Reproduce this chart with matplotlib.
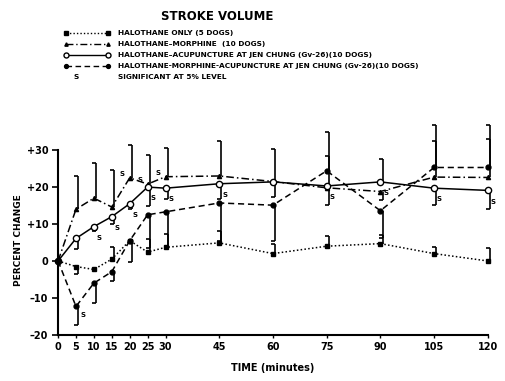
import numpy as np
import matplotlib
matplotlib.use("Agg")
import matplotlib.pyplot as plt

# time points (minutes)
times = [0, 5, 10, 15, 20, 25, 30, 45, 60, 75, 90, 105, 120]

# percent change in stroke volume
halothane_only = [0, -1.5, -2.3, 0.5, 5.5, 2.4, 3.7, 4.9, 2.0, 4.0, 4.7, 2.0, 0.0]
halothane_morphine = [0, 14.0, 17.0, 14.6, 22.5, 20.8, 22.8, 23.0, 21.5, 19.8, 18.8, 22.7, 22.6]
halothane_acup = [0, 6.1, 9.3, 12.0, 15.5, 20.0, 19.7, 20.9, 21.4, 20.3, 21.4, 19.7, 19.1]
morphine_acup = [0, -12.3, -6.0, -2.9, 5.5, 12.5, 13.3, 15.7, 15.1, 24.4, 13.6, 25.3, 25.3]

# end of the one-sided error bar for each point (nan = no bar drawn)
nan = np.nan
ho_err = [nan, -3.6, nan, 3.7, nan, 6.0, 7.3, 8.0, 4.5, 6.7, 7.0, 3.7, 3.5]
hm_err = [nan, 23.0, 26.5, 24.5, 31.5, 28.8, 30.5, 32.5, 30.2, 28.5, 16.5, 32.6, 33.0]
ha_err = [nan, 3.2, 8.0, 10.0, 14.0, 15.0, 16.8, 16.9, 17.3, 15.2, 27.5, 15.2, 14.2]
ma_err = [nan, -17.4, -11.5, -5.3, -0.4, 3.5, 3.7, 5.3, 5.3, 35.0, 6.2, 36.9, 36.9]

# points flagged significant at 5% level: (series key, time)
signif = [("ma", 5), ("ha", 10), ("ha", 15), ("ha", 20), ("hm", 20), ("hm", 25),
          ("ha", 25), ("hm", 30), ("ha", 30), ("ha", 45), ("ha", 75), ("ha", 90),
          ("ha", 105), ("ha", 120)]

legend_labels = [
    "HALOTHANE ONLY (5 DOGS)",
    "HALOTHANE\u2013MORPHINE  (10 DOGS)",
    "HALOTHANE\u2013ACUPUNCTURE AT JEN CHUNG (Gv-26)(10 DOGS)",
    "HALOTHANE-MORPHINE-ACUPUNCTURE AT JEN CHUNG (Gv-26)(10 DOGS)",
]

x_ticks = [0, 5, 10, 15, 20, 25, 30, 45, 60, 75, 90, 105, 120]
y_ticks = [-20, -10, 0, 10, 20, 30]
y_tick_labels = ["\u201320", "\u201310", "0", "+10", "+20", "+30"]

FONT = "Liberation Sans Narrow"
plt.rcParams["font.family"] = [FONT, "DejaVu Sans"]
plt.rcParams["font.weight"] = "bold"

fig = plt.figure(figsize=(5.05, 3.81), dpi=100)
ax = fig.add_axes([0.115, 0.121, 0.851, 0.485])

series = {
    "ho": (halothane_only, ho_err, dict(ls=(0, (1, 1.5)), marker="s", mfc="k", ms=3)),
    "hm": (halothane_morphine, hm_err, dict(ls=(0, (5, 2, 1, 2)), marker="^", mfc="k", ms=3)),
    "ha": (halothane_acup, ha_err, dict(ls="-", marker="o", mfc="white", ms=4.5)),
    "ma": (morphine_acup, ma_err, dict(ls=(0, (4, 2.5)), marker="o", mfc="k", ms=3.5)),
}

# offsets (points) for the "S" flags, per series
s_offset = {"ma": (3, -6), "ha": (2, -8), "hm": (-7, 3)}

t = np.array(times, dtype=float)
cap = 1.1  # width of the bracket tick, minutes
for key, (vals, errs, style) in series.items():
    v = np.array(vals, dtype=float)
    ax.plot(t, v, color="k", lw=1.1, mec="k", mew=1.0, zorder=3, clip_on=False, **style)
    e = np.array(errs, dtype=float)
    ok = ~np.isnan(e)
    bx = t[ok] + 0.6
    ax.vlines(bx, v[ok], e[ok], color="k", lw=1.2, zorder=2, clip_on=False)
    ax.hlines(e[ok], bx - cap, bx, color="k", lw=1.2, zorder=2, clip_on=False)

for key, tm in signif:
    vals = series[key][0]
    y = vals[times.index(tm)]
    ax.annotate("S", (tm, y), xytext=s_offset[key], textcoords="offset points",
                fontsize=5, fontweight="bold", ha="left", va="center")

ax.set_xlim(0, 120)
ax.set_ylim(-20, 30)
ax.set_xticks(x_ticks)
ax.set_xticklabels([str(x) for x in x_ticks], fontsize=7, fontweight="bold")
ax.set_yticks(y_ticks)
ax.set_yticklabels(y_tick_labels, fontsize=7, fontweight="bold")
ax.tick_params(axis="x", length=2, width=1, pad=3)
ax.tick_params(axis="y", length=4, width=1.2, pad=3)
for s in ["top", "right"]:
    ax.spines[s].set_visible(False)
for s in ["left", "bottom"]:
    ax.spines[s].set_linewidth(1.5)

ax.set_xlabel("TIME (minutes)", fontsize=7, fontweight="bold", labelpad=8)
fig.text(0.036, 0.37, "PERCENT CHANGE", rotation=90, fontsize=6.5,
         fontweight="bold", ha="center", va="center")

# title and hand-made key above the plot
fig.text(0.43, 0.958, "STROKE VOLUME", fontsize=8.5, fontweight="bold",
         ha="center", va="center")
key_styles = [series["ho"][2], series["hm"][2], series["ha"][2], series["ma"][2]]
row_y = [0.913, 0.885, 0.856, 0.828]
for yy, lab, st in zip(row_y, legend_labels, key_styles):
    fig.add_artist(plt.Line2D([0.13, 0.213], [yy, yy], color="k", lw=1.0,
                              ls=st["ls"], transform=fig.transFigure))
    fig.add_artist(plt.Line2D([0.13, 0.213], [yy, yy], color="k", lw=0,
                              marker=st["marker"], mfc=st["mfc"], mec="k",
                              ms=st["ms"] * 0.8, transform=fig.transFigure))
    fig.text(0.234, yy, lab, fontsize=5.3, fontweight="bold", va="center")
fig.text(0.15, 0.798, "S", fontsize=5.3, fontweight="bold", va="center", ha="center")
fig.text(0.234, 0.798, "SIGNIFICANT AT 5% LEVEL", fontsize=5.3,
         fontweight="bold", va="center")

fig.savefig("out.png", dpi=100)
